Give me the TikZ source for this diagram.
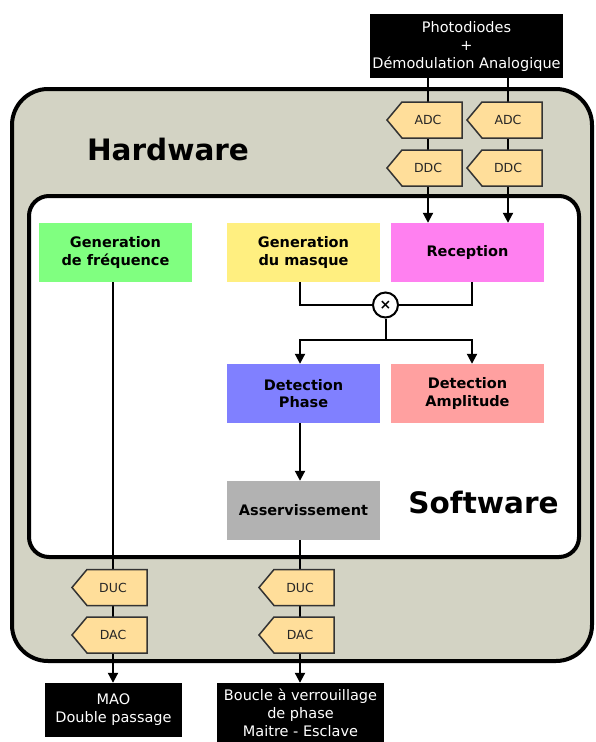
\documentclass[tikz,border=0pt]{standalone}
\usepackage{fontspec}
\setmainfont{DejaVu Sans}
\usetikzlibrary{arrows.meta}
\definecolor{hwfill}{RGB}{211,211,196}
\definecolor{convfill}{RGB}{255,222,154}
\definecolor{cgreen}{RGB}{128,255,128}
\definecolor{cyellow}{RGB}{255,239,128}
\definecolor{cmagenta}{RGB}{255,128,240}
\definecolor{cblue}{RGB}{128,128,255}
\definecolor{cpink}{RGB}{255,160,160}
\definecolor{cgray}{RGB}{178,178,178}
\pgfdeclarelayer{bg}
\pgfdeclarelayer{wires}
\pgfdeclarelayer{shapes}
\pgfsetlayers{bg,wires,shapes,main}
\tikzset{
  block/.style={minimum width=153pt, minimum height=59pt, inner sep=0pt, align=center,
    font=\fontsize{14.5}{17.5}\selectfont\bfseries},
  blackbox/.style={fill=black, text=white, inner sep=0pt, align=center,
    font=\fontsize{14.5}{18}\selectfont},
  convtext/.style={inner sep=0pt, text=black!85, font=\fontsize{12.5}{14}\selectfont},
  convshape/.style={fill=convfill, draw=black!80, line width=1.5pt, line join=miter},
  wire/.style={line width=2pt},
  arr/.style={wire, -{Triangle[length=10pt,width=10pt]}},
  frame/.style={line width=4pt},
  title/.style={font=\fontsize{29.5}{32}\selectfont\bfseries, anchor=base, inner sep=0pt}
}
\newcommand\convnode[4]{%
  \node[convtext] (#1) at (#2,#3) {#4};
  \begin{pgfonlayer}{shapes}
    \draw[convshape] ([shift={(34,-18)}]#1.center) -- ([shift={(-26,-18)}]#1.center)
      -- ([shift={(-41,0)}]#1.center) -- ([shift={(-26,18)}]#1.center)
      -- ([shift={(34,18)}]#1.center) -- cycle;
  \end{pgfonlayer}}
\begin{document}
\begin{tikzpicture}[x=1pt,y=-1pt]
\useasboundingbox (0,0) rectangle (595,742);
\begin{pgfonlayer}{bg}
  \draw[frame, fill=hwfill, rounded corners=36pt] (12,89) rectangle (592,661);
  \draw[frame, fill=white, rounded corners=20pt] (29,196) rectangle (579,557);
\end{pgfonlayer}
\node[title] (hw) at (168,160) {Hardware};
\node[title] (sw) at (483.5,513) {Software};

\node[blackbox, minimum width=193pt, minimum height=64pt] (photo) at (466.5,46)
  {Photodiodes\\+\\Démodulation Analogique};
\node[blackbox, minimum width=137pt, minimum height=54pt] (mao) at (113.5,710)
  {MAO\\Double passage};
\node[blackbox, minimum width=167pt, minimum height=60pt] (boucle) at (300.5,713)
  {Boucle à verrouillage\\de phase\\Maitre - Esclave};

\node[block, fill=cgreen] (genf) at (115.5,252.5) {Generation\\de fréquence};
\node[block, fill=cyellow] (masque) at (303.5,252.5) {Generation\\du masque};
\node[block, fill=cmagenta] (rec) at (467.5,252.5) {Reception};
\node[block, fill=cblue] (phase) at (303.5,393.5) {Detection\\Phase};
\node[block, fill=cpink] (amp) at (467.5,393.5) {Detection\\Amplitude};
\node[block, fill=cgray] (asserv) at (303.5,510.5) {Asservissement};
\node[circle, draw, line width=2pt, fill=white, minimum size=25pt, inner sep=0pt,
  font=\fontsize{14}{14}\selectfont\bfseries] (mult) at (385.5,305) {×};

\convnode{adc1}{428}{120}{ADC}
\convnode{ddc1}{428}{168}{DDC}
\convnode{adc2}{508}{120}{ADC}
\convnode{ddc2}{508}{168}{DDC}
\convnode{duc1}{113}{587.5}{DUC}
\convnode{dac1}{113}{635}{DAC}
\convnode{duc2}{300}{587.5}{DUC}
\convnode{dac2}{300}{635}{DAC}

\coordinate (mx) at (300,0);
\coordinate (rx) at (472,0);
\coordinate (sp) at (0,340);
\begin{pgfonlayer}{wires}
  \draw[arr] (photo.south -| adc1) -- (rec.north -| adc1);
  \draw[arr] (photo.south -| adc2) -- (rec.north -| adc2);
  \draw[wire] (masque.south -| mx) |- (mult.west);
  \draw[wire] (rec.south -| rx) |- (mult.east);
  \draw[wire] (mult.south) -- (mult |- sp);
  \draw[arr] (mult |- sp) -| (phase.north -| mx);
  \draw[arr] (mult |- sp) -| (amp.north -| rx);
  \draw[arr] (phase.south -| mx) -- (asserv.north -| mx);
  \draw[arr] (asserv.south -| duc2) -- (boucle.north -| duc2);
  \draw[arr] (genf.south -| duc1) -- (mao.north -| duc1);
\end{pgfonlayer}
\end{tikzpicture}
\end{document}
